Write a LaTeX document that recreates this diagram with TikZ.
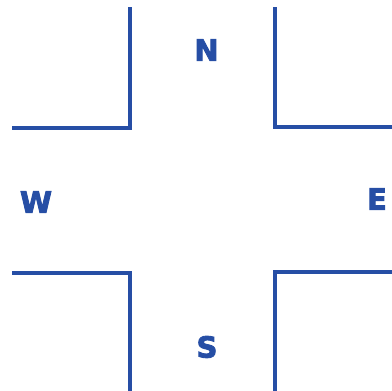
\documentclass[tikz,border=0pt]{standalone}
\usepackage{fontspec}
\newfontfamily\heavyfont[FakeBold=3]{DejaVu Sans Bold}
\definecolor{ink}{RGB}{38,78,165}
\begin{document}
\begin{tikzpicture}[x=1pt,y=-1pt,
  wall/.style={draw=ink,line width=3.1pt,line cap=butt,line join=miter},
  dirlabel/.style={text=ink,font=\heavyfont\fontsize{29}{29}\selectfont,inner sep=0pt,anchor=center}]
\useasboundingbox (0,0) rectangle (392,391);
\draw[wall] (12,128) -- (130,128) -- (130,7);
\draw[wall] (275,7) -- (275,127) -- (392,127);
\draw[wall] (12,273) -- (130,273) -- (130,391);
\draw[wall] (392,272) -- (275,272) -- (275,391);
\node[dirlabel] (n) at (206.5,50) {N};
\node[dirlabel] (w) at (36,202) {W};
\node[dirlabel] (e) at (377,199) {E};
\node[dirlabel] (s) at (207,347) {S};
\end{tikzpicture}
\end{document}
